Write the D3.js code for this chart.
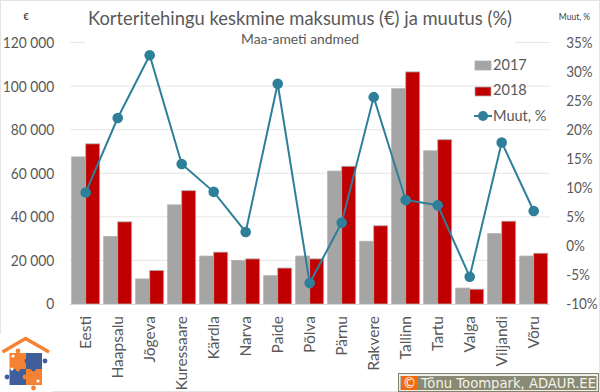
<html><head>
<meta charset="utf-8">
<script src="https://d3js.org/d3.v7.min.js"></script>
<style>
html, body { margin: 0; padding: 0; background: white; }
svg { display: block; font-family: 'Lato', sans-serif; }
.domain { display: none; }
</style>
</head>
<body>
<svg id="chart" width="600" height="392"></svg>
<script>
const categories = ['Eesti','Haapsalu','Jõgeva','Kuressaare','Kärdla','Narva','Paide','Põlva','Pärnu','Rakvere','Tallinn','Tartu','Valga','Viljandi','Võru'];
const values2017 = [67500,31000,11500,45500,22000,20000,13000,22000,61000,28800,98800,70300,7300,32300,22000];
const values2018 = [73500,37700,15400,52000,23800,20700,16500,20700,63200,35900,106500,75400,6800,38000,23300];
const change = [9.2,22,32.8,14.1,9.3,2.4,27.9,-6.4,4,25.6,7.9,7,-5.3,17.8,6];
const leftTicks = [0,20000,40000,60000,80000,100000,120000];
const rightTicks = [-10,-5,0,5,10,15,20,25,30,35];

const svg = d3.select('#chart');
const textColor = '#595959';
const grey = '#a5a5a5', red = '#c00000', teal = '#2e7f9a', barEdge = '#b0b0b0';

const x = d3.scaleBand().domain(categories).range([69.7, 549.7]).paddingInner(0.125).paddingOuter(0.0625);
const inner = d3.scaleBand().domain(['2017','2018']).range([0, x.bandwidth()]);
const y = d3.scaleLinear().domain([0, 120000]).range([304, 42.5]);
const yPct = d3.scaleLinear().domain([-10, 35]).range([304, 42.5]);
const fmt = d => d3.format(',')(d).replace(/,/g, ' ');

// Lato runs wider than the reference font, squeeze the glyphs a bit
function squeeze(sel, factor) {
  sel.each(function() {
    this.setAttribute('textLength', this.getComputedTextLength() * factor);
    this.setAttribute('lengthAdjust', 'spacingAndGlyphs');
  });
}

// frame of the picture
svg.append('rect').attr('x', 0.5).attr('y', 0.5).attr('width', 599).attr('height', 391)
  .attr('fill', 'white').attr('stroke', '#e4e4e4');

// gridlines
svg.append('g').selectAll('line').data(leftTicks.slice(1)).join('line')
  .attr('x1', 69.7).attr('x2', 549.7)
  .attr('y1', d => y(d)).attr('y2', d => y(d))
  .attr('stroke', '#e6e6e6').attr('stroke-width', 1);

// title box hides the top gridline
svg.append('rect').attr('x', 85).attr('y', 5).attr('width', 430).attr('height', 45).attr('fill', 'white');

// left axis
const axisL = svg.append('g').attr('transform', 'translate(69.7,0)')
  .call(d3.axisLeft(y).tickValues(leftTicks).tickFormat(fmt).tickSize(0).tickPadding(15.5));
axisL.selectAll('text').attr('fill', textColor).attr('font-size', 15.5).attr('font-family', 'Lato').call(squeeze, 0.89);

// right axis
const axisR = svg.append('g').attr('transform', 'translate(549.7,0)')
  .call(d3.axisRight(yPct).tickValues(rightTicks).tickFormat(d => d + '%').tickSize(0).tickPadding(16.5));
axisR.selectAll('text').attr('fill', textColor).attr('font-size', 15.5).attr('font-family', 'Lato').call(squeeze, 0.87);

// bars
const cats = svg.append('g').selectAll('g').data(categories).join('g')
  .attr('transform', d => `translate(${x(d)},0)`);
cats.append('rect')
  .attr('x', inner('2017')).attr('width', inner.bandwidth())
  .attr('y', (d, i) => y(values2017[i])).attr('height', (d, i) => y(0) - y(values2017[i]))
  .attr('fill', grey).attr('stroke', barEdge).attr('stroke-width', 0.8);
cats.append('rect')
  .attr('x', inner('2018')).attr('width', inner.bandwidth())
  .attr('y', (d, i) => y(values2018[i])).attr('height', (d, i) => y(0) - y(values2018[i]))
  .attr('fill', red).attr('stroke', barEdge).attr('stroke-width', 0.8);

// baseline
svg.append('line').attr('x1', 69.7).attr('x2', 549.7).attr('y1', 304.5).attr('y2', 304.5)
  .attr('stroke', '#d9d9d9');

// category labels
svg.append('g').selectAll('text').data(categories).join('text')
  .attr('transform', d => `translate(${x(d) + x.bandwidth() / 2 + 5.5},316) rotate(-90)`)
  .attr('text-anchor', 'end')
  .attr('fill', textColor).attr('font-size', 16)
  .text(d => d)
  .call(squeeze, 0.97);

// change line
const line = d3.line().x((d, i) => x(categories[i]) + x.bandwidth() / 2).y(d => yPct(d));
svg.append('path').attr('d', line(change)).attr('fill', 'none').attr('stroke', teal).attr('stroke-width', 2);
svg.append('g').selectAll('circle').data(change).join('circle')
  .attr('cx', (d, i) => x(categories[i]) + x.bandwidth() / 2)
  .attr('cy', d => yPct(d)).attr('r', 5.3).attr('fill', teal);

// titles
svg.append('text').attr('x', 300).attr('y', 24.5).attr('text-anchor', 'middle')
  .attr('fill', textColor).attr('font-size', 20).attr('textLength', 424).attr('lengthAdjust', 'spacingAndGlyphs')
  .text('Korteritehingu keskmine maksumus (€) ja muutus (%)');
svg.append('text').attr('x', 300).attr('y', 44).attr('text-anchor', 'middle')
  .attr('fill', textColor).attr('font-size', 14).attr('textLength', 118).attr('lengthAdjust', 'spacingAndGlyphs')
  .text('Maa-ameti andmed');
svg.append('text').attr('x', 26).attr('y', 20).attr('text-anchor', 'middle')
  .attr('fill', '#404040').attr('font-size', 9).attr('font-weight', 700).text('€');
svg.append('text').attr('x', 574.5).attr('y', 20).attr('text-anchor', 'middle')
  .attr('fill', '#404040').attr('font-size', 8.5).text('Muut, %');

// legend
const legend = svg.append('g');
legend.append('rect').attr('x', 475).attr('y', 61).attr('width', 16).attr('height', 9).attr('fill', grey).attr('stroke', barEdge).attr('stroke-width', 0.8);
legend.append('rect').attr('x', 475).attr('y', 87).attr('width', 16).attr('height', 9).attr('fill', red).attr('stroke', barEdge).attr('stroke-width', 0.8);
legend.append('line').attr('x1', 474).attr('x2', 492).attr('y1', 116).attr('y2', 116).attr('stroke', teal).attr('stroke-width', 2);
legend.append('circle').attr('cx', 483).attr('cy', 116).attr('r', 5).attr('fill', teal);
legend.selectAll('text').data(['2017', '2018', 'Muut, %']).join('text')
  .attr('x', 493).attr('y', (d, i) => 69.5 + i * 25.5)
  .attr('fill', textColor).attr('font-size', 15).text(d => d)
  .call(squeeze, 0.97);

// logo
const orange = '#f58233', blue = '#3f5e9a';
const logo = svg.append('g');
logo.append('rect').attr('x', 0).attr('y', 334).attr('width', 52).attr('height', 58).attr('fill', 'white');
logo.append('path').attr('d', 'M2.5,352 L25.5,338.5 L49,352').attr('fill', 'none').attr('stroke', orange).attr('stroke-width', 3.5);
logo.append('rect').attr('x', 9.5).attr('y', 353).attr('width', 16.5).attr('height', 16).attr('fill', orange);
logo.append('rect').attr('x', 26).attr('y', 353).attr('width', 16).attr('height', 16).attr('fill', blue);
logo.append('rect').attr('x', 9.5).attr('y', 369).attr('width', 16.5).attr('height', 16).attr('fill', blue);
logo.append('rect').attr('x', 26).attr('y', 369).attr('width', 16).attr('height', 16).attr('fill', orange);
// puzzle knobs
[[18,351,orange],[45,361,blue],[7,377,blue],[33.5,388,orange],[27,361,blue],[25,377,orange],[18,369,orange],[33.5,369,blue]].forEach(k => {
  logo.append('circle').attr('cx', k[0]).attr('cy', k[1]).attr('r', 2.4).attr('fill', k[2]);
});
[[13,356],[38,381],[12,369]].forEach(k => {
  logo.append('circle').attr('cx', k[0]).attr('cy', k[1]).attr('r', 1.6).attr('fill', 'white');
});

// copyright badge
svg.append('rect').attr('x', 398.5).attr('y', 373.5).attr('width', 200).attr('height', 18)
  .attr('fill', '#f0f0e8').attr('stroke', '#80806c');
svg.append('rect').attr('x', 400.5).attr('y', 376).attr('width', 196).attr('height', 14).attr('fill', '#8a8a74');
svg.append('rect').attr('x', 401).attr('y', 376).attr('width', 17).attr('height', 14).attr('fill', '#f26a10');
svg.append('text').attr('x', 409.5).attr('y', 387.7).attr('text-anchor', 'middle')
  .attr('fill', 'white').attr('font-size', 13.5).attr('font-family', 'DejaVu Sans').text('©');
svg.append('text').attr('x', 421).attr('y', 387.7)
  .attr('fill', '#f2f2e8').attr('font-size', 13.5).attr('font-family', 'DejaVu Sans')
  .attr('textLength', 175).attr('lengthAdjust', 'spacingAndGlyphs')
  .text('Tõnu Toompark, ADAUR.EE');
</script>
</body></html>
